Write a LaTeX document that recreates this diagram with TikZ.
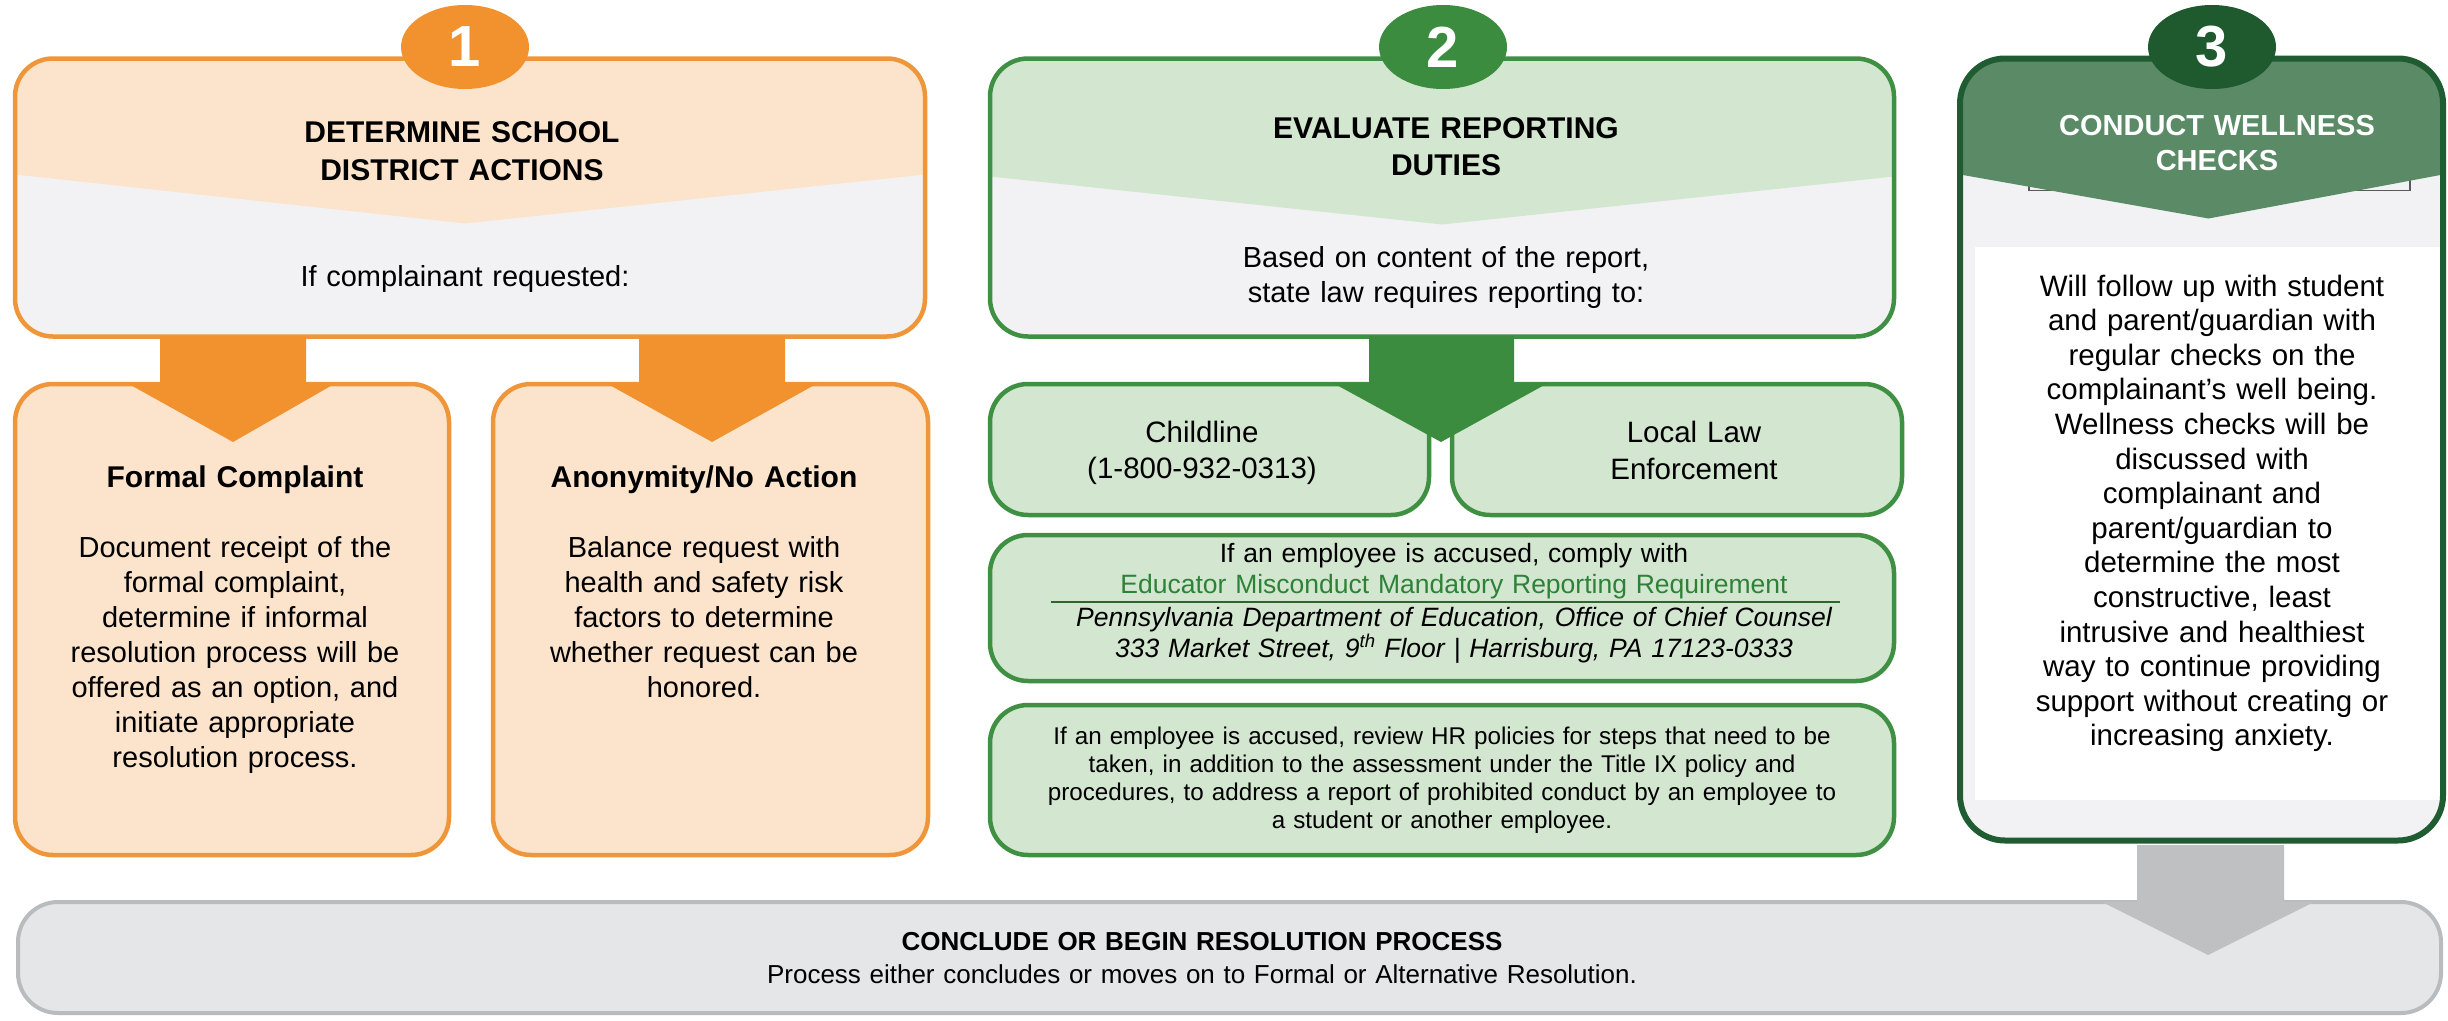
\documentclass[tikz,border=0pt]{standalone}
\usepackage{fontspec}
\setmainfont{Liberation Sans}
\usetikzlibrary{shapes.geometric,calc}
\newcommand\myfs[2]{\fontsize{#1pt}{#2pt}\selectfont}
\newcommand\myV[4]{\fill[#1,sharp corners] (path picture bounding box.north west) -- (path picture bounding box.north east) -- ([yshift=-#2pt]path picture bounding box.north east) -- ([xshift=#4pt,yshift=-#3pt]path picture bounding box.north) -- ([yshift=-#2pt]path picture bounding box.north west) -- cycle;}
\definecolor{orA}{RGB}{240,150,58}
\definecolor{orC}{RGB}{241,146,46}
\definecolor{peach}{RGB}{252,228,204}
\definecolor{lgray}{RGB}{242,242,244}
\definecolor{gA}{RGB}{64,144,68}
\definecolor{gC}{RGB}{60,140,63}
\definecolor{gL}{RGB}{211,230,208}
\definecolor{gT}{RGB}{46,130,56}
\definecolor{dG}{RGB}{31,92,50}
\definecolor{dGc}{RGB}{30,90,46}
\definecolor{mG}{RGB}{91,139,102}
\definecolor{barF}{RGB}{229,230,232}
\definecolor{barD}{RGB}{185,188,191}
\definecolor{arrG}{RGB}{190,192,194}
\tikzset{
  bx/.style={draw, inner sep=0pt, line width=4.5pt, rounded corners=38pt},
  txt/.style={anchor=base, align=center, inner sep=0pt, text width=#1},
  txt/.default=860pt,
  num/.style={ellipse, inner sep=0pt, minimum width=128pt, minimum height=84pt, text=white, font=\bfseries\myfs{58}{58}},
}
\begin{document}
\begin{tikzpicture}[x=1pt,y=-1pt]
\useasboundingbox (0,0) rectangle (2448,1020);
\fill[white] (0,0) rectangle (2448,1020);

% ---------- column 1 ----------
\node[bx, draw=orA, fill=lgray, minimum width=910pt, minimum height=278pt,
  path picture={\myV{peach}{116}{165}{-5}}] (b1) at (470,197.5) {};
\node[bx, draw=orA, fill=peach, minimum width=434pt, minimum height=471pt] (fc) at (232,619.5) {};
\node[bx, draw=orA, fill=peach, minimum width=435pt, minimum height=471pt] (an) at (710.5,619.5) {};
\fill[orC] (160,336) -- (306,336) -- (306,383) -- (336,383) -- (233,442) -- (127,383) -- (160,383) -- cycle;
\fill[orC] (639,336) -- (785,336) -- (785,383) -- (818,383) -- (712,442) -- (606,383) -- (639,383) -- cycle;
\node[num, fill=orC] (n1) at (465,47) {1};
\node[txt, font=\bfseries\myfs{30}{38}] (t1) at (462,142) {DETERMINE SCHOOL\\DISTRICT ACTIONS};
\node[txt, font=\myfs{29}{35}] (t1b) at (465,286) {If complainant requested:};
\node[txt=420pt, font=\bfseries\myfs{30}{36}] (fct) at (235,487) {Formal Complaint};
\node[txt=420pt, font=\myfs{29}{35}] (fcb) at (235,557) {Document receipt of the\\formal complaint,\\determine if informal\\resolution process will be\\offered as an option, and\\initiate appropriate\\resolution process.};
\node[txt=420pt, font=\bfseries\myfs{30}{36}] (ant) at (704,487) {Anonymity/No Action};
\node[txt=420pt, font=\myfs{29}{35}] (anb) at (704,557) {Balance request with\\health and safety risk\\factors to determine\\whether request can be\\honored.};

% ---------- column 2 ----------
\node[bx, draw=gA, fill=lgray, minimum width=904pt, minimum height=278pt,
  path picture={\myV{gL}{118}{166}{0}}] (b2) at (1442,197.5) {};
\node[bx, draw=gA, fill=gL, minimum width=439pt, minimum height=131pt] (ch) at (1209.5,449.5) {};
\node[bx, draw=gA, fill=gL, minimum width=450pt, minimum height=131pt] (ll) at (1677,449.5) {};
\node[bx, draw=gA, fill=gL, minimum width=904pt, minimum height=146pt] (em) at (1442,608) {};
\node[bx, draw=gA, fill=gL, minimum width=904pt, minimum height=150pt] (hr) at (1442,780) {};
\fill[gC] (1369,336) -- (1514,336) -- (1514,383) -- (1548,383) -- (1441,442) -- (1333,383) -- (1369,383) -- cycle;
\node[num, fill=gC] (n2) at (1443,47) {2};
\node[txt, font=\bfseries\myfs{30}{37}] (t2) at (1446,138) {EVALUATE REPORTING\\DUTIES};
\node[txt, font=\myfs{29}{35}] (t2b) at (1446,267) {Based on content of the report,\\state law requires reporting to:};
\node[txt=420pt, font=\myfs{29.5}{36}] (cht) at (1202,442) {Childline\\(1-800-932-0313)};
\node[txt=420pt, font=\myfs{29.5}{37}] (llt) at (1694,442) {Local Law\\Enforcement};
\node[txt, font=\myfs{26.5}{31}] (em1) at (1454,562) {If an employee is accused, comply with};
\node[txt, font=\myfs{26.5}{31}, text=gT] (em2) at (1454,593) {Educator Misconduct Mandatory Reporting Requirement};
\draw[gA!70!black, line width=1.5pt] (1051,602) -- (1840,602);
\node[txt, font=\itshape\myfs{26.5}{31}] (em3) at (1454,626) {Pennsylvania Department of Education, Office of Chief Counsel};
\node[txt, font=\itshape\myfs{26.5}{31}] (em4) at (1454,657) {333 Market Street, 9\textsuperscript{th} Floor | Harrisburg, PA 17123-0333};
\node[txt, font=\myfs{24.2}{28.3}] (hrt) at (1442,744) {If an employee is accused, review HR policies for steps that need to be\\taken, in addition to the assessment under the Title IX policy and\\procedures, to address a report of prohibited conduct by an employee to\\a student or another employee.};

% ---------- column 3 ----------
\node[bx, draw=dG, fill=lgray, line width=6pt, rounded corners=45pt, minimum width=483pt, minimum height=782pt,
  path picture={
    \fill[white, sharp corners] ([xshift=15pt,yshift=-188pt]path picture bounding box.north west) rectangle ([xshift=-3pt,yshift=-741pt]path picture bounding box.north east);
    \draw[black!65, line width=1.5pt, sharp corners] ([xshift=69pt,yshift=-103pt]path picture bounding box.north west) rectangle ([xshift=450pt,yshift=-132pt]path picture bounding box.north west);
    \myV{mG}{116}{160}{7}}] (b3) at (2201.5,449.5) {};
\fill[arrG] (2137,845) -- (2284,845) -- (2284,900) -- (2314,900) -- (2208,955) -- (2102,900) -- (2137,900) -- cycle;
\node[num, fill=dGc] (n3) at (2212,47) {3};
\node[txt=460pt, font=\bfseries\myfs{29}{35}, text=white] (t3) at (2217,135) {CONDUCT WELLNESS\\CHECKS};
\node[txt=460pt, font=\myfs{29.5}{34.6}] (t3b) at (2212,296) {Will follow up with student\\and parent/guardian with\\regular checks on the\\complainant’s well being.\\Wellness checks will be\\discussed with\\complainant and\\parent/guardian to\\determine the most\\constructive, least\\intrusive and healthiest\\way to continue providing\\support without creating or\\increasing anxiety.};

% ---------- bottom bar ----------
\node[bx, draw=barD, fill=barF, line width=4pt, rounded corners=40pt, minimum width=2423pt, minimum height=111pt] (bar) at (1229.5,957.5) {};
\fill[arrG] (2137,898) -- (2284,898) -- (2284,902) -- (2314,902) -- (2208,955) -- (2102,902) -- (2137,902) -- cycle;
\node[txt=1400pt, font=\bfseries\myfs{26}{32}] (bt1) at (1202,950) {CONCLUDE OR BEGIN RESOLUTION PROCESS};
\node[txt=1400pt, font=\myfs{26}{32}] (bt2) at (1202,983) {Process either concludes or moves on to Formal or Alternative Resolution.};
\end{tikzpicture}
\end{document}
